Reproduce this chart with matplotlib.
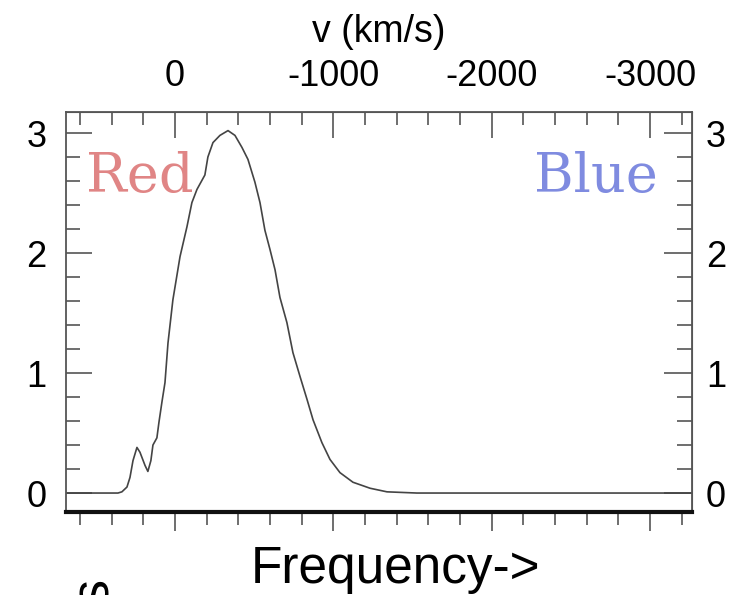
import matplotlib
matplotlib.use("Agg")
import matplotlib.pyplot as plt
from matplotlib.ticker import MultipleLocator, FixedLocator, NullFormatter, FuncFormatter

plt.rcParams["axes.unicode_minus"] = False

# Data (velocity in km/s, profile value)
velocity = [688, 360, 335, 303, 284, 265, 240, 221, 189, 171, 152, 139, 114, 101,
            82, 63, 44, 13, -32, -76, -107, -139, -189, -208, -240, -284, -335,
            -379, -423, -461, -505, -537, -568, -600, -632, -663, -707, -745,
            -790, -834, -872, -928, -979, -1042, -1124, -1232, -1339, -1528, -3265]
profile = [0, 0, 0.01, 0.05, 0.13, 0.27, 0.38, 0.34, 0.23, 0.18, 0.27, 0.40, 0.46,
           0.59, 0.76, 0.92, 1.25, 1.61, 1.97, 2.22, 2.42, 2.53, 2.65, 2.80, 2.92,
           2.98, 3.02, 2.98, 2.88, 2.78, 2.59, 2.42, 2.19, 2.03, 1.86, 1.63, 1.42,
           1.17, 0.97, 0.78, 0.61, 0.42, 0.28, 0.17, 0.09, 0.04, 0.01, 0, 0]
vel_ticks = [0, -1000, -2000, -3000]
y_ticks = [0, 1, 2, 3]

W, H = 741, 595
fig = plt.figure(figsize=(W / 100, H / 100), dpi=100)
fig.patch.set_facecolor("white")

left, right, top, bottom = 66, 692, 112, 512
ax = fig.add_axes([left / W, 1 - bottom / H, (right - left) / W, (bottom - top) / H])
ax.plot(velocity, profile, color="#444444", lw=1.2)
ax.set_xlim(688, -3265)
ax.set_ylim(-0.158, 3.175)

sans = ["Liberation Sans", "DejaVu Sans"]
tick_fs = 26
gray = "#555555"
intfmt = FuncFormatter(lambda v, p: "%d" % round(v))

for s in ["top", "left", "right"]:
    ax.spines[s].set_color(gray)
    ax.spines[s].set_linewidth(1.3)
ax.spines["bottom"].set_color("#111111")
ax.spines["bottom"].set_linewidth(3)

# bottom axis: outward ticks, no labels
ax.xaxis.set_major_locator(FixedLocator(vel_ticks))
ax.xaxis.set_minor_locator(MultipleLocator(200))
ax.xaxis.set_major_formatter(NullFormatter())
ax.tick_params(axis="x", which="major", direction="out", length=14, width=1.2, color=gray)
ax.tick_params(axis="x", which="minor", direction="out", length=9, width=1.2, color=gray)

# left axis
ax.yaxis.set_major_locator(FixedLocator(y_ticks))
ax.yaxis.set_minor_locator(MultipleLocator(0.2))
ax.yaxis.set_major_formatter(intfmt)
ax.tick_params(axis="y", which="major", direction="in", length=19, width=1.2, color=gray,
               pad=14, labelsize=tick_fs)
ax.tick_params(axis="y", which="minor", direction="in", length=10, width=1.2, color=gray)
for lab in ax.get_yticklabels():
    lab.set_family(sans)

# top axis
secx = ax.secondary_xaxis("top")
secx.xaxis.set_major_locator(FixedLocator(vel_ticks))
secx.xaxis.set_minor_locator(MultipleLocator(200))
secx.xaxis.set_major_formatter(intfmt)
secx.tick_params(axis="x", which="major", direction="in", length=19, width=1.2, color=gray,
                 pad=13, labelsize=tick_fs)
secx.tick_params(axis="x", which="minor", direction="in", length=9, width=1.2, color=gray)
secx.set_xlabel("v (km/s)", fontsize=27, family=sans, labelpad=12)
for lab in secx.get_xticklabels():
    lab.set_family(sans)
secx.spines["top"].set_color(gray)

# right axis
secy = ax.secondary_yaxis("right")
secy.yaxis.set_major_locator(FixedLocator(y_ticks))
secy.yaxis.set_minor_locator(MultipleLocator(0.2))
secy.yaxis.set_major_formatter(intfmt)
secy.tick_params(axis="y", which="major", direction="in", length=20, width=1.2, color=gray,
                 pad=10, labelsize=tick_fs)
secy.tick_params(axis="y", which="minor", direction="in", length=11, width=1.2, color=gray)
for lab in secy.get_yticklabels():
    lab.set_family(sans)
secy.spines["right"].set_color(gray)

# Red / Blue labels
fig.text(86 / W, 1 - 177 / H, "Red", color="#e08585", fontsize=39, family="DejaVu Serif",
         ha="left", va="center")
fig.text(658 / W, 1 - 177 / H, "Blue", color="#7f8be0", fontsize=39, family="DejaVu Serif",
         ha="right", va="center")

fig.text(396 / W, 1 - 570 / H, "Frequency->", fontsize=37, family=sans,
         ha="center", va="center")
fig.text(94 / W, 1 - 578 / H, "s", fontsize=39, family=sans, rotation=90,
         ha="center", va="top")

fig.savefig("out.png", dpi=100, facecolor="white")
